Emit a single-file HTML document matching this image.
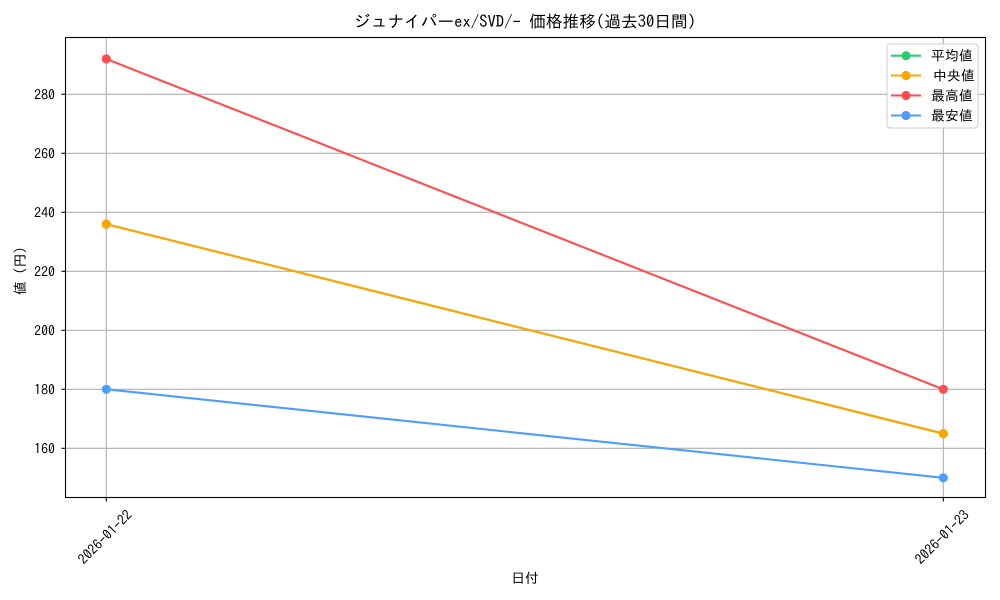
<!DOCTYPE html>
<html>
<head>
<meta charset="utf-8">
<style>
html,body{margin:0;padding:0;background:#fff;}
svg{display:block;font-family:"IPAGothic","Liberation Sans","Noto Sans CJK JP",sans-serif;}
</style>
</head>
<body>
<svg width="1000" height="600" viewBox="0 0 1000 600" xmlns="http://www.w3.org/2000/svg">
<rect width="1000" height="600" fill="#fff"/>
<!-- grid -->
<g stroke="#b0b0b0" stroke-width="1.1">
<line x1="106.3" y1="37.5" x2="106.3" y2="497.5"/>
<line x1="943.3" y1="37.5" x2="943.3" y2="497.5"/>
<line x1="65.5" y1="94.3" x2="985.5" y2="94.3"/>
<line x1="65.5" y1="153.3" x2="985.5" y2="153.3"/>
<line x1="65.5" y1="212.3" x2="985.5" y2="212.3"/>
<line x1="65.5" y1="271.3" x2="985.5" y2="271.3"/>
<line x1="65.5" y1="330.3" x2="985.5" y2="330.3"/>
<line x1="65.5" y1="389.3" x2="985.5" y2="389.3"/>
<line x1="65.5" y1="448.3" x2="985.5" y2="448.3"/>
</g>
<!-- series -->
<g stroke-width="2.1" fill="none">
<line x1="106.3" y1="224.1" x2="943.3" y2="433.6" stroke="#2ecc71"/>
<line x1="106.3" y1="224.1" x2="943.3" y2="433.6" stroke="#ffa500"/>
<line x1="106.3" y1="58.9" x2="943.3" y2="389.3" stroke="#ff4d4d"/>
<line x1="106.3" y1="389.3" x2="943.3" y2="477.8" stroke="#4d9dff"/>
</g>
<g>
<circle cx="106.3" cy="224.1" r="4.6" fill="#2ecc71"/>
<circle cx="943.3" cy="433.6" r="4.6" fill="#2ecc71"/>
<circle cx="106.3" cy="224.1" r="4.6" fill="#ffa500"/>
<circle cx="943.3" cy="433.6" r="4.6" fill="#ffa500"/>
<circle cx="106.3" cy="58.9" r="4.6" fill="#ff4d4d"/>
<circle cx="943.3" cy="389.3" r="4.6" fill="#ff4d4d"/>
<circle cx="106.3" cy="389.3" r="4.6" fill="#4d9dff"/>
<circle cx="943.3" cy="477.8" r="4.6" fill="#4d9dff"/>
</g>
<!-- axes frame -->
<rect x="65.5" y="37.5" width="920" height="460" fill="none" stroke="#000" stroke-width="1.1"/>
<!-- ticks -->
<g stroke="#000" stroke-width="1.1">
<line x1="61.5" y1="94.3" x2="65.5" y2="94.3"/>
<line x1="61.5" y1="153.3" x2="65.5" y2="153.3"/>
<line x1="61.5" y1="212.3" x2="65.5" y2="212.3"/>
<line x1="61.5" y1="271.3" x2="65.5" y2="271.3"/>
<line x1="61.5" y1="330.3" x2="65.5" y2="330.3"/>
<line x1="61.5" y1="389.3" x2="65.5" y2="389.3"/>
<line x1="61.5" y1="448.3" x2="65.5" y2="448.3"/>
<line x1="106.3" y1="497.5" x2="106.3" y2="501.5"/>
<line x1="943.3" y1="497.5" x2="943.3" y2="501.5"/>
</g>
<g font-size="13.9" fill="#000" text-anchor="end" dominant-baseline="central">
<text x="55" y="94.3">280</text>
<text x="55" y="153.3">260</text>
<text x="55" y="212.3">240</text>
<text x="55" y="271.3">220</text>
<text x="55" y="330.3">200</text>
<text x="55" y="389.3">180</text>
<text x="55" y="448.3">160</text>
</g>
<g font-size="13.9" fill="#000" text-anchor="middle" dominant-baseline="central">
<text x="105" y="537" transform="rotate(-45 105 537)">2026-01-22</text>
<text x="942" y="537" transform="rotate(-45 942 537)">2026-01-23</text>
</g>
<!-- labels -->
<text x="525" y="578" font-size="13.9" text-anchor="middle" dominant-baseline="central">日付</text>
<text x="20" y="267.5" font-size="13.9" text-anchor="middle" dominant-baseline="central" transform="rotate(-90 20 267.5)">値（円）</text>
<text x="525" y="22" font-size="16.7" text-anchor="middle" dominant-baseline="central">ジュナイパーex/SVD/- 価格推移(過去30日間)</text>
<!-- legend -->
<rect x="887" y="44" width="91" height="84" rx="3" fill="#fff" fill-opacity="0.8" stroke="#cccccc" stroke-width="1"/>
<g stroke-width="2.1">
<line x1="891" y1="55.7" x2="921" y2="55.7" stroke="#2ecc71"/>
<line x1="891" y1="75.5" x2="921" y2="75.5" stroke="#ffa500"/>
<line x1="891" y1="95.5" x2="921" y2="95.5" stroke="#ff4d4d"/>
<line x1="891" y1="115.5" x2="921" y2="115.5" stroke="#4d9dff"/>
</g>
<circle cx="906" cy="55.7" r="4.6" fill="#2ecc71"/>
<circle cx="906" cy="75.5" r="4.6" fill="#ffa500"/>
<circle cx="906" cy="95.5" r="4.6" fill="#ff4d4d"/>
<circle cx="906" cy="115.5" r="4.6" fill="#4d9dff"/>
<g font-size="13.9" fill="#000" dominant-baseline="central">
<text x="931" y="55.7">平均値</text>
<text x="933" y="75.5">中央値</text>
<text x="931" y="95.5">最高値</text>
<text x="931" y="115.5">最安値</text>
</g>
</svg>
</body>
</html>
